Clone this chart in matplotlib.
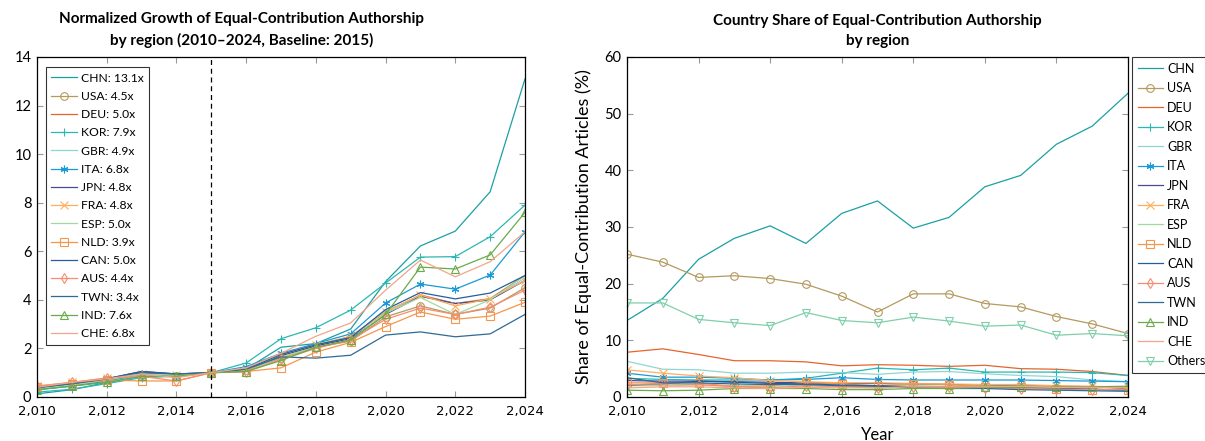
import matplotlib
matplotlib.use("Agg")
import matplotlib.pyplot as plt
from matplotlib.ticker import FuncFormatter, MultipleLocator

plt.rcParams['font.family'] = ['Lato', 'DejaVu Sans']

years = list(range(2010, 2025))

countries = ["CHN", "USA", "DEU", "KOR", "GBR", "ITA", "JPN", "FRA", "ESP", "NLD",
             "CAN", "AUS", "TWN", "IND", "CHE"]

# Normalized growth (2015 = 1.0)
growth_CHN = [0.13, 0.30, 0.60, 0.85, 0.92, 1.0, 1.15, 2.05, 2.20, 2.80, 4.75, 6.22, 6.83, 8.45, 13.1]
growth_USA = [0.40, 0.55, 0.72, 0.90, 0.85, 1.0, 1.10, 1.60, 2.05, 2.30, 3.30, 3.75, 3.40, 3.66, 4.5]
growth_DEU = [0.35, 0.50, 0.70, 1.00, 0.90, 1.0, 1.10, 1.70, 2.10, 2.50, 3.50, 4.20, 3.85, 4.05, 5.0]
growth_KOR = [0.20, 0.32, 0.55, 0.80, 0.85, 1.0, 1.40, 2.40, 2.85, 3.58, 4.69, 5.76, 5.78, 6.60, 7.9]
growth_GBR = [0.30, 0.45, 0.65, 0.90, 0.85, 1.0, 1.15, 1.75, 2.15, 2.45, 3.55, 4.15, 3.85, 4.00, 4.9]
growth_ITA = [0.30, 0.45, 0.65, 0.95, 0.85, 1.0, 1.25, 1.80, 2.20, 2.60, 3.87, 4.65, 4.44, 5.02, 6.8]
growth_JPN = [0.38, 0.55, 0.75, 1.05, 0.95, 1.0, 1.10, 1.70, 2.10, 2.40, 3.40, 4.15, 3.85, 4.00, 4.8]
growth_FRA = [0.45, 0.60, 0.78, 0.95, 0.90, 1.0, 1.10, 1.75, 2.15, 2.50, 3.50, 4.20, 3.75, 4.05, 4.8]
growth_ESP = [0.35, 0.50, 0.70, 0.95, 0.90, 1.0, 1.05, 1.65, 2.05, 2.35, 3.45, 4.10, 3.40, 4.00, 5.0]
growth_NLD = [0.42, 0.55, 0.70, 0.66, 0.66, 1.0, 1.05, 1.20, 1.85, 2.25, 2.90, 3.50, 3.20, 3.33, 3.9]
growth_CAN = [0.40, 0.55, 0.75, 1.05, 0.95, 1.0, 1.15, 1.75, 2.15, 2.45, 3.60, 4.30, 4.04, 4.28, 5.0]
growth_AUS = [0.45, 0.60, 0.78, 0.85, 0.66, 1.0, 1.05, 1.55, 2.00, 2.35, 3.20, 3.66, 3.40, 3.70, 4.4]
growth_TWN = [0.38, 0.55, 0.75, 1.00, 0.95, 1.0, 1.15, 1.65, 1.60, 1.72, 2.55, 2.68, 2.48, 2.60, 3.4]
growth_IND = [0.30, 0.45, 0.60, 0.85, 0.85, 1.0, 1.05, 1.50, 2.05, 2.35, 3.40, 5.35, 5.27, 5.85, 7.6]
growth_CHE = [0.40, 0.60, 0.75, 0.95, 0.80, 1.0, 1.20, 1.80, 2.50, 3.05, 4.40, 5.64, 4.95, 5.57, 6.8]

growth = [growth_CHN, growth_USA, growth_DEU, growth_KOR, growth_GBR, growth_ITA, growth_JPN,
          growth_FRA, growth_ESP, growth_NLD, growth_CAN, growth_AUS, growth_TWN, growth_IND,
          growth_CHE]
growth_labels = ["13.1x", "4.5x", "5.0x", "7.9x", "4.9x", "6.8x", "4.8x", "4.8x", "5.0x",
                 "3.9x", "5.0x", "4.4x", "3.4x", "7.6x", "6.8x"]

# Share of equal-contribution articles (%)
share_CHN = [13.5, 17.4, 24.3, 28.0, 30.2, 27.1, 32.4, 34.6, 29.8, 31.7, 37.1, 39.1, 44.6, 47.8, 53.6]
share_USA = [25.2, 23.8, 21.1, 21.4, 20.9, 19.9, 17.8, 15.0, 18.2, 18.2, 16.5, 15.9, 14.2, 12.9, 11.2]
share_DEU = [7.9, 8.5, 7.5, 6.4, 6.4, 6.2, 5.5, 5.7, 5.6, 5.4, 5.6, 5.0, 4.9, 4.5, 3.8]
share_KOR = [3.3, 3.1, 3.0, 3.0, 3.0, 3.3, 4.2, 5.1, 4.8, 5.1, 4.4, 4.4, 4.4, 4.3, 3.8]
share_GBR = [6.3, 4.9, 4.8, 4.2, 4.2, 4.4, 4.3, 4.0, 4.4, 4.5, 4.1, 3.8, 3.6, 3.0, 2.7]
share_ITA = [4.2, 3.5, 3.5, 3.3, 3.0, 3.1, 3.4, 3.1, 3.0, 3.0, 3.0, 3.0, 2.9, 2.8, 2.7]
share_JPN = [2.9, 2.8, 2.8, 2.7, 2.6, 2.5, 2.4, 2.4, 2.3, 2.2, 2.1, 2.0, 1.9, 1.8, 1.5]
share_FRA = [4.8, 4.2, 3.7, 3.4, 2.9, 2.7, 2.5, 2.5, 2.4, 2.3, 2.2, 2.2, 2.0, 1.9, 1.7]
share_ESP = [2.0, 2.0, 2.1, 2.0, 1.9, 2.0, 1.9, 1.9, 2.0, 1.9, 1.9, 1.9, 1.8, 1.8, 1.7]
share_NLD = [2.5, 2.5, 2.5, 1.8, 2.0, 2.6, 2.3, 2.0, 2.3, 2.2, 1.8, 1.8, 1.5, 1.3, 1.2]
share_CAN = [2.1, 2.3, 2.8, 2.6, 2.4, 2.3, 2.1, 2.0, 1.8, 1.8, 1.7, 1.6, 1.5, 1.4, 1.2]
share_AUS = [2.2, 2.3, 2.2, 1.8, 1.6, 2.0, 1.8, 1.6, 1.8, 1.7, 1.6, 1.5, 1.4, 1.3, 1.3]
share_TWN = [3.4, 2.5, 2.5, 2.3, 2.2, 2.2, 2.0, 1.9, 1.6, 1.5, 1.5, 1.3, 1.2, 1.1, 1.0]
share_IND = [1.2, 1.1, 1.2, 1.5, 1.5, 1.5, 1.3, 1.3, 1.5, 1.5, 1.7, 1.7, 1.8, 1.8, 1.9]
share_CHE = [1.6, 1.8, 1.8, 1.6, 1.5, 1.7, 1.6, 1.6, 1.8, 1.8, 1.8, 1.9, 1.7, 1.7, 1.6]
share_Others = [16.6, 16.6, 13.7, 13.1, 12.6, 14.9, 13.5, 13.1, 14.1, 13.4, 12.5, 12.7, 10.9, 11.2, 10.8]

shares = [share_CHN, share_USA, share_DEU, share_KOR, share_GBR, share_ITA, share_JPN,
          share_FRA, share_ESP, share_NLD, share_CAN, share_AUS, share_TWN, share_IND,
          share_CHE, share_Others]
share_names = countries + ["Others"]

colors = ["#1aa0a3", "#b39a5e", "#e8632b", "#2bb8b2", "#8fd6d2", "#1a9ad6", "#4a4a94",
          "#ffae5c", "#a3d9a0", "#f5964a", "#235f9c", "#f78c6e", "#2f6a96", "#6aaa4a",
          "#f2a58a", "#7fcfaa"]
markers = [None, "o", None, "+", None, (6, 2, 0), None, "x", None, "s", None, "d", None, "^",
           None, "v"]

fig = plt.figure(figsize=(12.05, 4.41), dpi=100)
ax1 = fig.add_axes([37/1205, 1-397/441, (525-37)/1205, (397-57)/441])
ax2 = fig.add_axes([627/1205, 1-397/441, (1128-627)/1205, (397-57)/441])

def style(m, c):
    if m is None:
        return dict(marker=None)
    return dict(marker=m, markersize=5.5, markerfacecolor="none", markeredgecolor=c,
                markeredgewidth=0.8)

for i, name in enumerate(countries):
    ax1.plot(years, growth[i], color=colors[i], lw=0.9,
             label=f"{name}: {growth_labels[i]}", **style(markers[i], colors[i]))
ax1.axvline(2015, color="black", lw=0.9, ls=(0, (4, 3)))

for i, name in enumerate(share_names):
    ax2.plot(years, shares[i], color=colors[i], lw=0.9, label=name,
             **style(markers[i], colors[i]))

fmt = FuncFormatter(lambda v, p: f"{int(v):,}")
for ax in (ax1, ax2):
    ax.set_xlim(2010, 2024)
    ax.xaxis.set_major_locator(MultipleLocator(2))
    ax.xaxis.set_major_formatter(fmt)
    ax.tick_params(direction="in", top=True, right=True, length=4, color="#999999",
                   labelsize=10.5)
    ax.tick_params(axis="y", pad=4)
    ax.tick_params(axis="x", pad=6)
    for lab in ax.get_xticklabels():
        lab.set_fontfamily(["Liberation Sans Narrow", "DejaVu Sans"])
        lab.set_fontsize(9.5)
    for s in ax.spines.values():
        s.set_linewidth(0.9)

ax1.set_ylim(0, 14)
ax1.yaxis.set_major_locator(MultipleLocator(2))
ax2.set_ylim(0, 60)
ax2.yaxis.set_major_locator(MultipleLocator(10))

ax1.set_title("Normalized Growth of Equal-Contribution Authorship\nby region (2010–2024, Baseline: 2015)",
              fontsize=11, fontweight="bold", linespacing=1.5, pad=9, x=0.42)
ax2.set_title("Country Share of Equal-Contribution Authorship\nby region",
              fontsize=11, fontweight="bold", linespacing=1.5, pad=9)
ax2.set_ylabel("Share of Equal-Contribution Articles (%)", fontsize=13, labelpad=9)
ax2.set_xlabel("Year", fontsize=12, labelpad=6)

leg1 = ax1.legend(loc="upper left", bbox_to_anchor=(0.018, 0.97), fontsize=8.7,
                  handlelength=2.1, handletextpad=0.35, labelspacing=0.6,
                  borderpad=0.45, borderaxespad=0, frameon=True, fancybox=False,
                  edgecolor="black")
leg1.get_frame().set_linewidth(0.8)

leg2 = ax2.legend(loc="upper left", bbox_to_anchor=(1.008, 1.0), fontsize=9,
                  handlelength=2.0, handletextpad=0.35, labelspacing=0.6,
                  borderpad=0.45, borderaxespad=0, frameon=True, fancybox=False,
                  edgecolor="black")
leg2.get_frame().set_linewidth(0.8)

fig.savefig("out.png", dpi=100)
